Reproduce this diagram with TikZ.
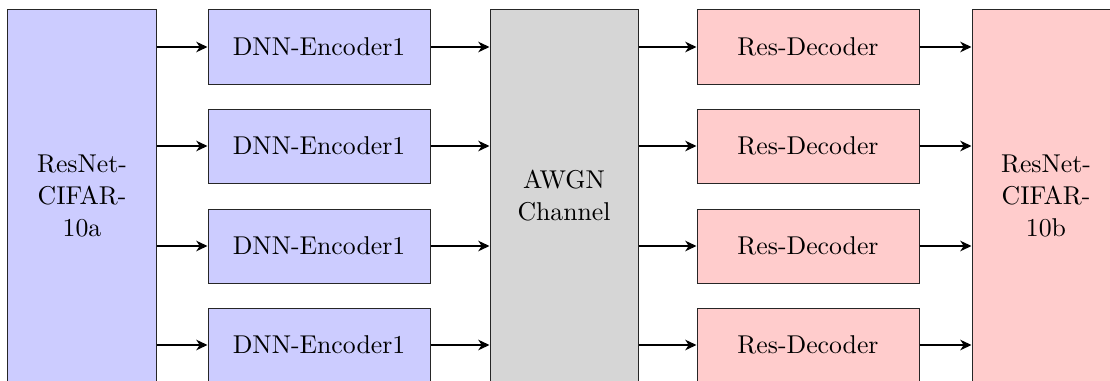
\documentclass[tikz,border=0pt]{standalone}
\usetikzlibrary{arrows.meta}
\definecolor{encblue}{RGB}{204,204,255}
\definecolor{decred}{RGB}{255,204,204}
\definecolor{chgray}{RGB}{214,214,214}
\begin{document}
\begin{tikzpicture}[x=0.4pt,y=-0.4pt,
  every node/.style={font=\fontsize{10.3}{12.8}\selectfont},
  block/.style={draw=black!85, line width=0.4pt, minimum width=88.8pt, minimum height=29.6pt, inner sep=0pt},
  tall/.style={draw=black!85, line width=0.4pt, minimum width=59.2pt, minimum height=148.8pt, inner sep=0pt, align=center},
  enc/.style={block, fill=encblue},
  dec/.style={block, fill=decred},
  link/.style={line width=0.8pt, -{Stealth[length=4.5pt,width=4.2pt,inset=1.4pt]}}]
\useasboundingbox (0,0) rectangle (1110,380);
\clip (0,0) rectangle (1110,380);
% large blocks
\node[tall, fill=encblue] (src) at (82,196) {ResNet-\\CIFAR-\\10a};
\node[tall, fill=chgray] (ch) at (564,196) {AWGN\\Channel};
\node[tall, fill=decred] (dst) at (1046,196) {ResNet-\\CIFAR-\\10b};
% encoder / decoder rows
\foreach \i/\y in {1/47,2/146,3/246,4/345}{
  \node[enc] (e\i) at (319,\y) {DNN-Encoder1};
  \node[dec] (d\i) at (808,\y) {Res-Decoder};
  \draw[link] (src.east |- e\i) -- (e\i.west);
  \draw[link] (e\i.east) -- (ch.west |- e\i);
  \draw[link] (ch.east |- d\i) -- (d\i.west);
  \draw[link] (d\i.east) -- (dst.west |- d\i);
}
\end{tikzpicture}
\end{document}
